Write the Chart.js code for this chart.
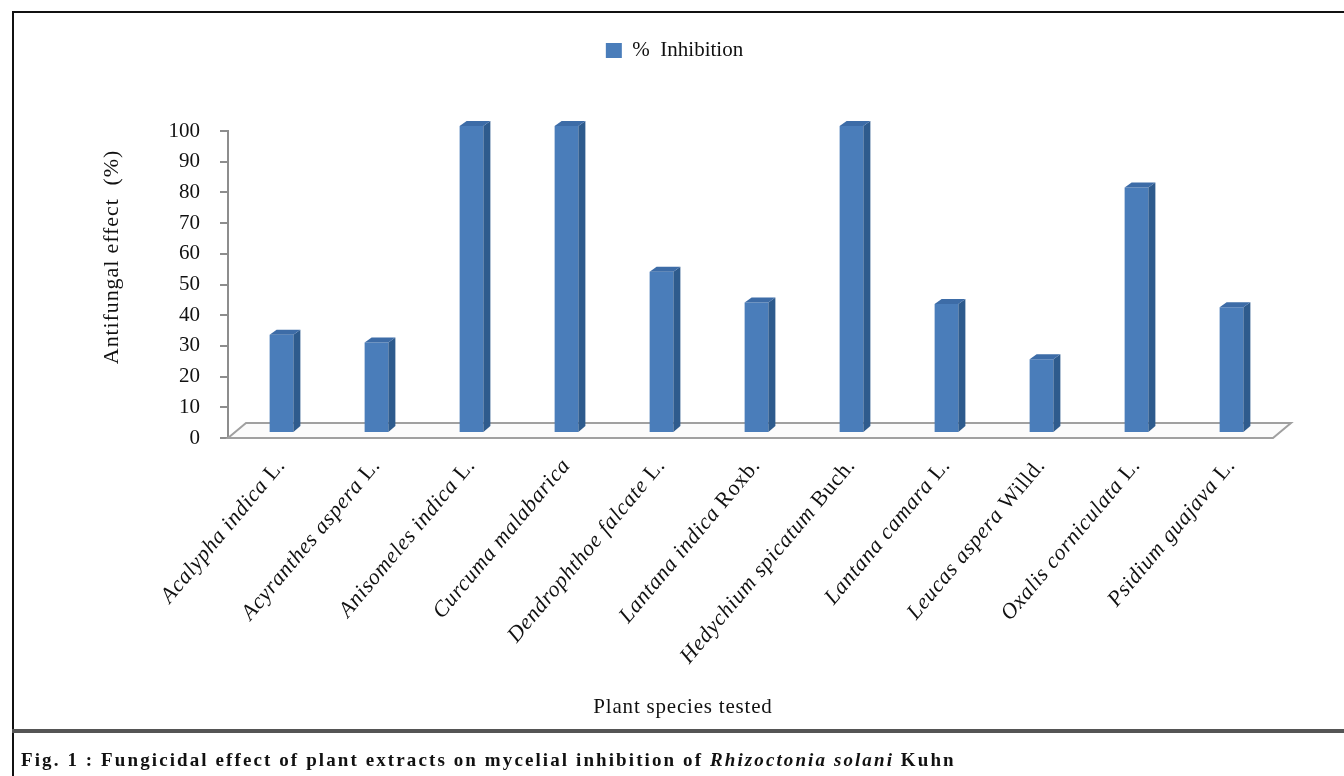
<!DOCTYPE html>
<html><head><meta charset="utf-8">
<script src="https://cdn.jsdelivr.net/npm/chart.js@4.4.1/dist/chart.umd.min.js"></script>
<style>
html,body{margin:0;padding:0;background:#fff;width:1344px;height:776px;overflow:hidden;}
#frame{position:absolute;left:12px;top:11px;width:1340px;height:770px;border-left:2px solid #111;border-top:2px solid #111;}
#sep{position:absolute;left:12px;top:729px;width:1340px;height:4px;background:#555;}
#cap{position:absolute;left:21px;top:749px;font:bold 19px "Liberation Serif",serif;letter-spacing:2.1px;color:#111;white-space:nowrap;}
canvas{position:absolute;left:0;top:0;}
</style></head><body>
<div id="frame"></div>
<canvas id="c" width="1344" height="776"></canvas>
<div id="sep"></div>
<div id="cap">Fig. 1 : Fungicidal effect of plant extracts on mycelial inhibition of <i>Rhizoctonia solani</i> Kuhn</div>
<script>
const speciesNames = ['Acalypha indica','Acyranthes aspera','Anisomeles indica','Curcuma malabarica','Dendrophthoe falcate','Lantana indica','Hedychium spicatum','Lantana camara','Leucas aspera','Oxalis corniculata','Psidium guajava'];
const authorities = ['L.','L.','L.','','L.','Roxb.','Buch.','L.','Willd.','L.','L.'];
const categories = speciesNames.map((s,i)=> authorities[i] ? s+' '+authorities[i] : s);
const inhibition = [32, 29.5, 100, 100, 52.5, 42.5, 100, 42, 24, 80, 41];
const yTickValues = [0,10,20,30,40,50,60,70,80,90,100];
const seriesLabel = '%  Inhibition';
const yTitle = 'Antifungal effect  (%)';
const xTitle = 'Plant species tested';

const SERIF = '"Liberation Serif", "Times New Roman", serif';

const legendSpacer = {
  id:'legendSpacer',
  beforeInit(chart){
    const orig = chart.legend.fit;
    chart.legend.fit = function(){ orig.call(this); this.height = 101; };
  }
};

const threeD = {
  id:'threeD',
  beforeDatasetsDraw(chart){
    const {ctx, chartArea:a} = chart;
    ctx.save();
    ctx.beginPath();
    ctx.moveTo(a.left, a.bottom);
    ctx.lineTo(a.left+18, a.bottom-15);
    ctx.lineTo(a.right+18, a.bottom-15);
    ctx.lineTo(a.right, a.bottom);
    ctx.closePath();
    ctx.fillStyle='#fbfbfb'; ctx.fill();
    ctx.strokeStyle='#a0a0a0'; ctx.lineWidth=2; ctx.stroke();
    ctx.restore();
    ctx.save();
    ctx.translate(6,-5);
  },
  afterDatasetsDraw(chart){
    const ctx = chart.ctx;
    const meta = chart.getDatasetMeta(0);
    meta.data.forEach(bar=>{
      const p = bar.getProps(['x','y','base','width'], true);
      const l = p.x - p.width/2, r = p.x + p.width/2;
      ctx.fillStyle='#2e5b8d';
      ctx.beginPath(); ctx.moveTo(r,p.y); ctx.lineTo(r+7,p.y-5); ctx.lineTo(r+7,p.base-6); ctx.lineTo(r,p.base); ctx.closePath(); ctx.fill();
      ctx.fillStyle='#3d6ca7';
      ctx.beginPath(); ctx.moveTo(l,p.y); ctx.lineTo(l+7,p.y-5); ctx.lineTo(r+7,p.y-5); ctx.lineTo(r,p.y); ctx.closePath(); ctx.fill();
    });
    ctx.restore();
  },
  afterDraw(chart){
    const ctx = chart.ctx, xs = chart.scales.x;
    ctx.save();
    ctx.fillStyle = '#111';
    categories.forEach((c,i)=>{
      const ax = xs.getPixelForValue(i) + 6, ay = 462;
      ctx.save();
      ctx.translate(ax, ay);
      ctx.rotate(-50*Math.PI/180);
      ctx.letterSpacing = '0.7px';
      ctx.textAlign = 'right'; ctx.textBaseline = 'middle';
      let off = 0;
      if (authorities[i]) {
        ctx.font = '22px ' + SERIF;
        ctx.fillText(authorities[i], 0, 0);
        off = ctx.measureText(authorities[i]).width + ctx.measureText(' ').width;
      }
      ctx.font = 'italic 22px ' + SERIF;
      ctx.fillText(speciesNames[i], -off, 0);
      ctx.restore();
    });
    ctx.save();
    ctx.translate(112, 257);
    ctx.rotate(-Math.PI/2);
    ctx.letterSpacing = '0.9px';
    ctx.font = '22px ' + SERIF;
    ctx.textAlign='center'; ctx.textBaseline='middle';
    ctx.fillText(yTitle, 0, 0);
    ctx.restore();
    ctx.letterSpacing = '0.8px';
    ctx.font = '21px ' + SERIF;
    ctx.textAlign='center'; ctx.textBaseline='middle';
    ctx.fillText(xTitle, 683, 707);
    ctx.restore();
  }
};

new Chart(document.getElementById('c'), {
  type:'bar',
  data:{
    labels: categories,
    datasets:[{
      label: seriesLabel,
      data: inhibition,
      backgroundColor:'#4a7dba',
      borderWidth:0,
      barPercentage:0.25,
      categoryPercentage:1,
      clip:false
    }]
  },
  options:{
    responsive:false,
    animation:false,
    layout:{padding:{left:76,right:71,top:30,bottom:338}},
    plugins:{
      legend:{
        display:true, position:'top',
        labels:{boxWidth:16, boxHeight:15, padding:10, color:'#111', font:{family:SERIF, size:21}}
      },
      tooltip:{enabled:false}
    },
    scales:{
      x:{display:false},
      y:{
        min:0, max:100,
        afterBuildTicks: s => { s.ticks = yTickValues.map(v=>({value:v})); },
        afterFit: s => { s.width = 152; },
        grid:{drawOnChartArea:false, drawTicks:true, tickLength:8, color:'#8d8d8d', lineWidth:2},
        border:{display:true, color:'#8d8d8d', width:2},
        ticks:{color:'#111', padding:20, font:{family:SERIF, size:21}}
      }
    }
  },
  plugins:[legendSpacer, threeD]
});
</script>
</body></html>
